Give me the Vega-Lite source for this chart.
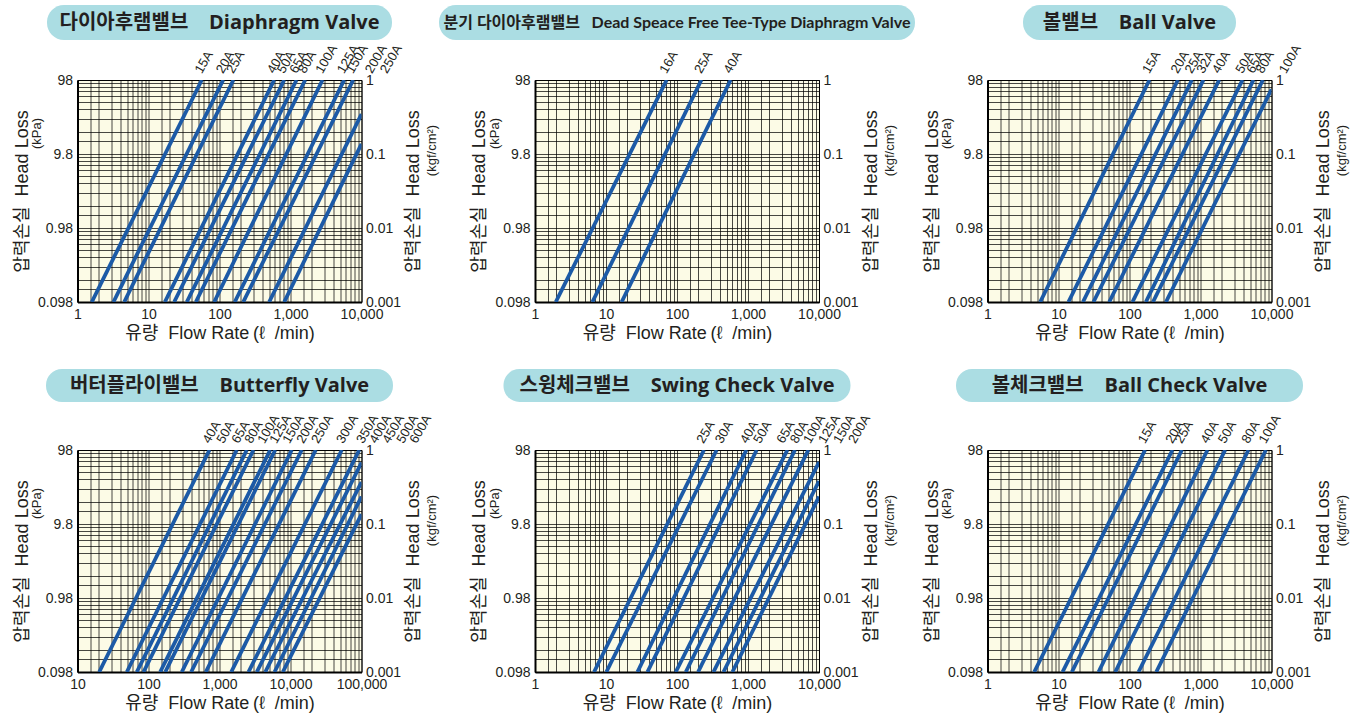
{
"$schema": "https://vega.github.io/schema/vega-lite/v6.json",
"background": "white",
"padding": {"left": 12, "top": 5, "right": 5, "bottom": 2},
"config": {
  "axis": {"ticks": false, "labelFont": "Liberation Sans", "labelFontSize": 14, "labelColor": "#231f20", "titleFont": "Liberation Sans, Noto Sans CJK KR", "titleFontSize": 18, "titleFontWeight": "normal", "titleColor": "#231f20", "domainColor": "#000", "gridColor": "#000", "gridWidth": 0.8, "gridOpacity": 0.9, "labelOverlap": false, "labelFlush": false}
},
"datasets": {
  "L1": [
    {"s":"15A","q":1.59,"h":0.098},{"s":"15A","q":56.3,"h":98},
    {"s":"20A","q":3.21,"h":0.098},{"s":"20A","q":112.8,"h":98},
    {"s":"25A","q":4.55,"h":0.098},{"s":"25A","q":157,"h":98},
    {"s":"40A","q":17.0,"h":0.098},{"s":"40A","q":589,"h":98},
    {"s":"50A","q":23.0,"h":0.098},{"s":"50A","q":815,"h":98},
    {"s":"65A","q":34.6,"h":0.098},{"s":"65A","q":1216,"h":98},
    {"s":"80A","q":46.4,"h":0.098},{"s":"80A","q":1611,"h":98},
    {"s":"100A","q":84.2,"h":0.098},{"s":"100A","q":2824,"h":98},
    {"s":"125A","q":164,"h":0.098},{"s":"125A","q":5705,"h":98},
    {"s":"150A","q":216,"h":0.098},{"s":"150A","q":7640,"h":98},
    {"s":"200A","q":501,"h":0.098},{"s":"200A","q":10000,"h":34.0},
    {"s":"250A","q":815,"h":0.098},{"s":"250A","q":10000,"h":13.4}
  ],
  "T1": [
    {"s":"15A","q":56.3,"h":98},{"s":"20A","q":112.8,"h":98},{"s":"25A","q":157,"h":98},
    {"s":"40A","q":589,"h":98},{"s":"50A","q":815,"h":98},{"s":"65A","q":1216,"h":98},
    {"s":"80A","q":1611,"h":98},{"s":"100A","q":2824,"h":98},{"s":"125A","q":5705,"h":98},
    {"s":"150A","q":7640,"h":98},{"s":"200A","q":14150,"h":98},{"s":"250A","q":23000,"h":98}
  ],
  "L2": [
    {"s":"16A","q":1.96,"h":0.098},{"s":"16A","q":71.6,"h":98},
    {"s":"25A","q":6.43,"h":0.098},{"s":"25A","q":220.7,"h":98},
    {"s":"40A","q":16.6,"h":0.098},{"s":"40A","q":570,"h":98}
  ],
  "T2": [
    {"s":"16A","q":71.6,"h":98},{"s":"25A","q":220.7,"h":98},{"s":"40A","q":570,"h":98}
  ],
  "L3": [
    {"s":"15A","q":5.52,"h":0.098},{"s":"15A","q":191,"h":98},
    {"s":"20A","q":13.8,"h":0.098},{"s":"20A","q":481,"h":98},
    {"s":"25A","q":22.1,"h":0.098},{"s":"25A","q":757,"h":98},
    {"s":"32A","q":31.1,"h":0.098},{"s":"32A","q":1102,"h":98},
    {"s":"40A","q":51.8,"h":0.098},{"s":"40A","q":1834,"h":98},
    {"s":"50A","q":110,"h":0.098},{"s":"50A","q":3906,"h":98},
    {"s":"65A","q":170,"h":0.098},{"s":"65A","q":5575,"h":98},
    {"s":"80A","q":214,"h":0.098},{"s":"80A","q":7566,"h":98},
    {"s":"100A","q":326,"h":0.098},{"s":"100A","q":10000,"h":73.3}
  ],
  "T3": [
    {"s":"15A","q":191,"h":98},{"s":"20A","q":481,"h":98},{"s":"25A","q":757,"h":98},
    {"s":"32A","q":1102,"h":98},{"s":"40A","q":1834,"h":98},{"s":"50A","q":3906,"h":98},
    {"s":"65A","q":5575,"h":98},{"s":"80A","q":7566,"h":98},{"s":"100A","q":16100,"h":98}
  ],
  "L4": [
    {"s":"40A","q":20.2,"h":0.098},{"s":"40A","q":723,"h":98},
    {"s":"50A","q":49.5,"h":0.098},{"s":"50A","q":1753,"h":98},
    {"s":"65A","q":68.4,"h":0.098},{"s":"65A","q":2425,"h":98},
    {"s":"80A","q":85.1,"h":0.098},{"s":"80A","q":3013,"h":98},
    {"s":"100A","q":146,"h":0.098},{"s":"100A","q":5176,"h":98},
    {"s":"125A","q":172,"h":0.098},{"s":"125A","q":6091,"h":98},
    {"s":"150A","q":294,"h":0.098},{"s":"150A","q":10430,"h":98},
    {"s":"200A","q":399,"h":0.098},{"s":"200A","q":14430,"h":98},
    {"s":"250A","q":641,"h":0.098},{"s":"250A","q":22700,"h":98},
    {"s":"300A","q":1462,"h":0.098},{"s":"300A","q":52800,"h":98},
    {"s":"350A","q":2560,"h":0.098},{"s":"350A","q":92900,"h":98},
    {"s":"400A","q":3352,"h":0.098},{"s":"400A","q":100000,"h":66.2},
    {"s":"450A","q":4405,"h":0.098},{"s":"450A","q":100000,"h":36.2},
    {"s":"500A","q":5957,"h":0.098},{"s":"500A","q":100000,"h":23.0},
    {"s":"600A","q":7800,"h":0.098},{"s":"600A","q":100000,"h":13.3}
  ],
  "T4": [
    {"s":"40A","q":723,"h":98},{"s":"50A","q":1138,"h":98},{"s":"65A","q":1854,"h":98},
    {"s":"80A","q":2825,"h":98},{"s":"100A","q":4305,"h":98},{"s":"125A","q":6353,"h":98},
    {"s":"150A","q":9683,"h":98},{"s":"200A","q":15240,"h":98},{"s":"250A","q":24770,"h":98},
    {"s":"300A","q":55700,"h":98},{"s":"350A","q":106600,"h":98},{"s":"400A","q":162500,"h":98},
    {"s":"450A","q":247700,"h":98},{"s":"500A","q":390800,"h":98},{"s":"600A","q":595700,"h":98}
  ],
  "L5": [
    {"s":"25A","q":6.78,"h":0.098},{"s":"25A","q":240,"h":98},
    {"s":"30A","q":10.1,"h":0.098},{"s":"30A","q":362,"h":98},
    {"s":"40A","q":27.7,"h":0.098},{"s":"40A","q":949,"h":98},
    {"s":"50A","q":38.3,"h":0.098},{"s":"50A","q":1326,"h":98},
    {"s":"65A","q":95.9,"h":0.098},{"s":"65A","q":3590,"h":98},
    {"s":"80A","q":133,"h":0.098},{"s":"80A","q":4590,"h":98},
    {"s":"100A","q":198,"h":0.098},{"s":"100A","q":7090,"h":98},
    {"s":"125A","q":326,"h":0.098},{"s":"125A","q":10000,"h":67.4},
    {"s":"150A","q":451,"h":0.098},{"s":"150A","q":10000,"h":37.3},
    {"s":"200A","q":603,"h":0.098},{"s":"200A","q":10000,"h":23.0}
  ],
  "T5": [
    {"s":"25A","q":237.7,"h":98},{"s":"30A","q":430,"h":98},{"s":"40A","q":968,"h":98},
    {"s":"50A","q":1495,"h":98},{"s":"65A","q":3184,"h":98},{"s":"80A","q":4899,"h":98},
    {"s":"100A","q":7568,"h":98},{"s":"125A","q":12300,"h":98},{"s":"150A","q":20000,"h":98},
    {"s":"200A","q":32560,"h":98}
  ],
  "L6": [
    {"s":"15A","q":4.55,"h":0.098},{"s":"15A","q":166,"h":98},
    {"s":"20A","q":11.4,"h":0.098},{"s":"20A","q":403,"h":98},
    {"s":"25A","q":15.4,"h":0.098},{"s":"25A","q":547,"h":98},
    {"s":"40A","q":36.6,"h":0.098},{"s":"40A","q":1256,"h":98},
    {"s":"50A","q":62.9,"h":0.098},{"s":"50A","q":2228,"h":98},
    {"s":"80A","q":134,"h":0.098},{"s":"80A","q":4742,"h":98},
    {"s":"100A","q":238,"h":0.098},{"s":"100A","q":8340,"h":98}
  ],
  "T6": [
    {"s":"15A","q":166,"h":98},{"s":"20A","q":403,"h":98},{"s":"25A","q":547,"h":98},
    {"s":"40A","q":1256,"h":98},{"s":"50A","q":2228,"h":98},{"s":"80A","q":4742,"h":98},
    {"s":"100A","q":8340,"h":98}
  ]
},
"hconcat": [
 {"vconcat": [
  {"width": 345, "height": 35, "view": {"fill": "#abdde3", "stroke": null, "cornerRadius": 17},
   "data": {"values": [{"t": "다이아후램밸브\u00a0\u00a0\u00a0\u00a0Diaphragm Valve"}]},
   "mark": {"type": "text", "font": "Open Sans, Noto Sans CJK KR", "fontSize": 20, "fontWeight": "bold", "color": "#231f20"},
   "encoding": {"text": {"field": "t", "type": "nominal"}}},
  {"width": 10, "height": 8, "data": {"values": []}, "mark": "point", "view": {"stroke": null}},
  {"width": 284, "height": 222, "view": {"fill": "#fcfbe6", "stroke": "#000", "strokeWidth": 1},
   "resolve": {"axis": {"y": "independent"}},
   "layer": [
    {"data": {"name": "L1"}, "mark": {"type": "line", "color": "#1c5aa6", "strokeWidth": 3.8, "clip": true},
     "encoding": {
      "x": {"field": "q", "type": "quantitative", "scale": {"type": "log", "domain": [1, 10000], "nice": false},
        "axis": {"orient": "bottom", "values": [1,1.5,2,3,4,5,6,7,8,9,10,15,20,30,40,50,60,70,80,90,100,150,200,300,400,500,600,700,800,900,1000,1500,2000,3000,4000,5000,6000,7000,8000,9000,10000],
          "labelExpr": "indexof([1,10,100,1000,10000,100000], datum.value) >= 0 ? format(datum.value, ',') : ''",
          "grid": true, "domainWidth": 2, "labelPadding": 5, "title": "유량\u00a0\u00a0Flow Rate\u2009(ℓ\u00a0\u00a0/min)", "titlePadding": 3}},
      "y": {"field": "h", "type": "quantitative", "scale": {"type": "log", "domain": [0.098, 98], "nice": false},
        "axis": {"orient": "left", "values": [0.098,0.147,0.196,0.294,0.392,0.49,0.588,0.686,0.784,0.882,0.98,1.47,1.96,2.94,3.92,4.9,5.88,6.86,7.84,8.82,9.8,14.7,19.6,29.4,39.2,49,58.8,68.6,78.4,88.2,98],
          "labelExpr": "indexof([0.098,0.98,9.8,98], datum.value) >= 0 ? '' + datum.value : ''",
          "grid": true, "domainWidth": 2, "labelPadding": 5, "title": "압력손실\u00a0\u00a0Head Loss", "titlePadding": 6}},
      "detail": {"field": "s", "type": "nominal"}}},
    {"data": {"name": "T1"}, "mark": {"type": "text", "angle": -60, "align": "left", "baseline": "bottom", "dx": 5, "font": "Liberation Sans", "fontSize": 13, "color": "#231f20"},
     "encoding": {
      "x": {"field": "q", "type": "quantitative", "scale": {"type": "log", "domain": [1, 10000], "nice": false}},
      "y": {"field": "h", "type": "quantitative", "scale": {"type": "log", "domain": [0.098, 98], "nice": false},
        "axis": {"orient": "right", "values": [0.098, 0.98, 9.8, 98], "labelExpr": "datum.value == 0.098 ? '0.001' : datum.value == 0.98 ? '0.01' : datum.value == 9.8 ? '0.1' : '1'",
          "grid": false, "domain": false, "labelPadding": 4, "title": "압력손실\u00a0\u00a0Head Loss", "titleAngle": -90, "titleBaseline": "top", "titlePadding": 4}},
      "text": {"field": "s", "type": "nominal"}}},
    {"data": {"name": "L1"}, "mark": {"type": "point", "opacity": 0},
     "encoding": {
      "x": {"field": "q", "type": "quantitative", "scale": {"type": "log", "domain": [1, 10000], "nice": false}},
      "y": {"field": "h", "type": "quantitative", "scale": {"type": "log", "domain": [0.098, 98], "nice": false},
        "axis": {"orient": "left", "labels": false, "domain": false, "grid": false, "title": "(kPa)", "titleFontSize": 13, "titlePadding": 34, "titleY": 53, "minExtent": 0, "maxExtent": 0}}}},
    {"data": {"name": "L1"}, "mark": {"type": "point", "opacity": 0},
     "encoding": {
      "x": {"field": "q", "type": "quantitative", "scale": {"type": "log", "domain": [1, 10000], "nice": false}},
      "y": {"field": "h", "type": "quantitative", "scale": {"type": "log", "domain": [0.098, 98], "nice": false},
        "axis": {"orient": "right", "labels": false, "domain": false, "grid": false, "title": "(kgf/cm²)", "titleFontSize": 13, "titleAngle": -90, "titleBaseline": "top", "titlePadding": 64, "titleY": 70, "minExtent": 0, "maxExtent": 0}}}}
   ]},
  {"width": 10, "height": 35, "data": {"values": []}, "mark": "point", "view": {"stroke": null}},
  {"width": 347, "height": 33, "view": {"fill": "#abdde3", "stroke": null, "cornerRadius": 16},
   "data": {"values": [{"t": "버터플라이밸브\u00a0\u00a0\u00a0\u00a0Butterfly Valve"}]},
   "mark": {"type": "text", "font": "Open Sans, Noto Sans CJK KR", "fontSize": 20, "fontWeight": "bold", "color": "#231f20"},
   "encoding": {"text": {"field": "t", "type": "nominal"}}},
  {"width": 10, "height": 16, "data": {"values": []}, "mark": "point", "view": {"stroke": null}},
  {"width": 284, "height": 222, "view": {"fill": "#fcfbe6", "stroke": "#000", "strokeWidth": 1},
   "resolve": {"axis": {"y": "independent"}},
   "layer": [
    {"data": {"name": "L4"}, "mark": {"type": "line", "color": "#1c5aa6", "strokeWidth": 3.8, "clip": true},
     "encoding": {
      "x": {"field": "q", "type": "quantitative", "scale": {"type": "log", "domain": [10, 100000], "nice": false},
        "axis": {"orient": "bottom", "values": [10,15,20,30,40,50,60,70,80,90,100,150,200,300,400,500,600,700,800,900,1000,1500,2000,3000,4000,5000,6000,7000,8000,9000,10000,15000,20000,30000,40000,50000,60000,70000,80000,90000,100000],
          "labelExpr": "indexof([1,10,100,1000,10000,100000], datum.value) >= 0 ? format(datum.value, ',') : ''",
          "grid": true, "domainWidth": 2, "labelPadding": 5, "title": "유량\u00a0\u00a0Flow Rate\u2009(ℓ\u00a0\u00a0/min)", "titlePadding": 3}},
      "y": {"field": "h", "type": "quantitative", "scale": {"type": "log", "domain": [0.098, 98], "nice": false},
        "axis": {"orient": "left", "values": [0.098,0.147,0.196,0.294,0.392,0.49,0.588,0.686,0.784,0.882,0.98,1.47,1.96,2.94,3.92,4.9,5.88,6.86,7.84,8.82,9.8,14.7,19.6,29.4,39.2,49,58.8,68.6,78.4,88.2,98],
          "labelExpr": "indexof([0.098,0.98,9.8,98], datum.value) >= 0 ? '' + datum.value : ''",
          "grid": true, "domainWidth": 2, "labelPadding": 5, "title": "압력손실\u00a0\u00a0Head Loss", "titlePadding": 6}},
      "detail": {"field": "s", "type": "nominal"}}},
    {"data": {"name": "T4"}, "mark": {"type": "text", "angle": -60, "align": "left", "baseline": "bottom", "dx": 5, "font": "Liberation Sans", "fontSize": 13, "color": "#231f20"},
     "encoding": {
      "x": {"field": "q", "type": "quantitative", "scale": {"type": "log", "domain": [10, 100000], "nice": false}},
      "y": {"field": "h", "type": "quantitative", "scale": {"type": "log", "domain": [0.098, 98], "nice": false},
        "axis": {"orient": "right", "values": [0.098, 0.98, 9.8, 98], "labelExpr": "datum.value == 0.098 ? '0.001' : datum.value == 0.98 ? '0.01' : datum.value == 9.8 ? '0.1' : '1'",
          "grid": false, "domain": false, "labelPadding": 4, "title": "압력손실\u00a0\u00a0Head Loss", "titleAngle": -90, "titleBaseline": "top", "titlePadding": 4}},
      "text": {"field": "s", "type": "nominal"}}},
    {"data": {"name": "L4"}, "mark": {"type": "point", "opacity": 0},
     "encoding": {
      "x": {"field": "q", "type": "quantitative", "scale": {"type": "log", "domain": [10, 100000], "nice": false}},
      "y": {"field": "h", "type": "quantitative", "scale": {"type": "log", "domain": [0.098, 98], "nice": false},
        "axis": {"orient": "left", "labels": false, "domain": false, "grid": false, "title": "(kPa)", "titleFontSize": 13, "titlePadding": 34, "titleY": 53, "minExtent": 0, "maxExtent": 0}}}},
    {"data": {"name": "L4"}, "mark": {"type": "point", "opacity": 0},
     "encoding": {
      "x": {"field": "q", "type": "quantitative", "scale": {"type": "log", "domain": [10, 100000], "nice": false}},
      "y": {"field": "h", "type": "quantitative", "scale": {"type": "log", "domain": [0.098, 98], "nice": false},
        "axis": {"orient": "right", "labels": false, "domain": false, "grid": false, "title": "(kgf/cm²)", "titleFontSize": 13, "titleAngle": -90, "titleBaseline": "top", "titlePadding": 64, "titleY": 70, "minExtent": 0, "maxExtent": 0}}}}
   ]}
 ], "spacing": 16, "bounds": "flush", "center": true},
 {"hconcat": [
  {"vconcat": [
   {"width": 476, "height": 35, "view": {"fill": "#abdde3", "stroke": null, "cornerRadius": 17},
    "data": {"values": [{"t": "분기 다이아후램밸브\u00a0\u00a0\u00a0Dead Speace Free Tee-Type Diaphragm Valve"}]},
    "mark": {"type": "text", "font": "Lato, Noto Sans CJK KR", "fontSize": 16, "fontWeight": "bold", "color": "#231f20"},
    "encoding": {"text": {"field": "t", "type": "nominal"}}},
   {"width": 10, "height": 8, "data": {"values": []}, "mark": "point", "view": {"stroke": null}},
   {"width": 284, "height": 222, "view": {"fill": "#fcfbe6", "stroke": "#000", "strokeWidth": 1},
    "resolve": {"axis": {"y": "independent"}},
    "layer": [
     {"data": {"name": "L2"}, "mark": {"type": "line", "color": "#1c5aa6", "strokeWidth": 3.8, "clip": true},
      "encoding": {
       "x": {"field": "q", "type": "quantitative", "scale": {"type": "log", "domain": [1, 10000], "nice": false},
         "axis": {"orient": "bottom", "values": [1,1.5,2,3,4,5,6,7,8,9,10,15,20,30,40,50,60,70,80,90,100,150,200,300,400,500,600,700,800,900,1000,1500,2000,3000,4000,5000,6000,7000,8000,9000,10000],
           "labelExpr": "indexof([1,10,100,1000,10000,100000], datum.value) >= 0 ? format(datum.value, ',') : ''",
           "grid": true, "domainWidth": 2, "labelPadding": 5, "title": "유량\u00a0\u00a0Flow Rate\u2009(ℓ\u00a0\u00a0/min)", "titlePadding": 3}},
       "y": {"field": "h", "type": "quantitative", "scale": {"type": "log", "domain": [0.098, 98], "nice": false},
         "axis": {"orient": "left", "values": [0.098,0.147,0.196,0.294,0.392,0.49,0.588,0.686,0.784,0.882,0.98,1.47,1.96,2.94,3.92,4.9,5.88,6.86,7.84,8.82,9.8,14.7,19.6,29.4,39.2,49,58.8,68.6,78.4,88.2,98],
           "labelExpr": "indexof([0.098,0.98,9.8,98], datum.value) >= 0 ? '' + datum.value : ''",
           "grid": true, "domainWidth": 2, "labelPadding": 5, "title": "압력손실\u00a0\u00a0Head Loss", "titlePadding": 6}},
       "detail": {"field": "s", "type": "nominal"}}},
     {"data": {"name": "T2"}, "mark": {"type": "text", "angle": -60, "align": "left", "baseline": "bottom", "dx": 5, "font": "Liberation Sans", "fontSize": 13, "color": "#231f20"},
      "encoding": {
       "x": {"field": "q", "type": "quantitative", "scale": {"type": "log", "domain": [1, 10000], "nice": false}},
       "y": {"field": "h", "type": "quantitative", "scale": {"type": "log", "domain": [0.098, 98], "nice": false},
         "axis": {"orient": "right", "values": [0.098, 0.98, 9.8, 98], "labelExpr": "datum.value == 0.098 ? '0.001' : datum.value == 0.98 ? '0.01' : datum.value == 9.8 ? '0.1' : '1'",
           "grid": false, "domain": false, "labelPadding": 4, "title": "압력손실\u00a0\u00a0Head Loss", "titleAngle": -90, "titleBaseline": "top", "titlePadding": 4}},
       "text": {"field": "s", "type": "nominal"}}},
     {"data": {"name": "L2"}, "mark": {"type": "point", "opacity": 0},
      "encoding": {
       "x": {"field": "q", "type": "quantitative", "scale": {"type": "log", "domain": [1, 10000], "nice": false}},
       "y": {"field": "h", "type": "quantitative", "scale": {"type": "log", "domain": [0.098, 98], "nice": false},
         "axis": {"orient": "left", "labels": false, "domain": false, "grid": false, "title": "(kPa)", "titleFontSize": 13, "titlePadding": 34, "titleY": 53, "minExtent": 0, "maxExtent": 0}}}},
     {"data": {"name": "L2"}, "mark": {"type": "point", "opacity": 0},
      "encoding": {
       "x": {"field": "q", "type": "quantitative", "scale": {"type": "log", "domain": [1, 10000], "nice": false}},
       "y": {"field": "h", "type": "quantitative", "scale": {"type": "log", "domain": [0.098, 98], "nice": false},
         "axis": {"orient": "right", "labels": false, "domain": false, "grid": false, "title": "(kgf/cm²)", "titleFontSize": 13, "titleAngle": -90, "titleBaseline": "top", "titlePadding": 64, "titleY": 70, "minExtent": 0, "maxExtent": 0}}}}
    ]},
   {"width": 10, "height": 35, "data": {"values": []}, "mark": "point", "view": {"stroke": null}},
   {"width": 347, "height": 33, "view": {"fill": "#abdde3", "stroke": null, "cornerRadius": 16},
    "data": {"values": [{"t": "스윙체크밸브\u00a0\u00a0\u00a0\u00a0Swing Check Valve"}]},
    "mark": {"type": "text", "font": "Open Sans, Noto Sans CJK KR", "fontSize": 20, "fontWeight": "bold", "color": "#231f20"},
    "encoding": {"text": {"field": "t", "type": "nominal"}}},
   {"width": 10, "height": 16, "data": {"values": []}, "mark": "point", "view": {"stroke": null}},
   {"width": 284, "height": 222, "view": {"fill": "#fcfbe6", "stroke": "#000", "strokeWidth": 1},
    "resolve": {"axis": {"y": "independent"}},
    "layer": [
     {"data": {"name": "L5"}, "mark": {"type": "line", "color": "#1c5aa6", "strokeWidth": 3.8, "clip": true},
      "encoding": {
       "x": {"field": "q", "type": "quantitative", "scale": {"type": "log", "domain": [1, 10000], "nice": false},
         "axis": {"orient": "bottom", "values": [1,1.5,2,3,4,5,6,7,8,9,10,15,20,30,40,50,60,70,80,90,100,150,200,300,400,500,600,700,800,900,1000,1500,2000,3000,4000,5000,6000,7000,8000,9000,10000],
           "labelExpr": "indexof([1,10,100,1000,10000,100000], datum.value) >= 0 ? format(datum.value, ',') : ''",
           "grid": true, "domainWidth": 2, "labelPadding": 5, "title": "유량\u00a0\u00a0Flow Rate\u2009(ℓ\u00a0\u00a0/min)", "titlePadding": 3}},
       "y": {"field": "h", "type": "quantitative", "scale": {"type": "log", "domain": [0.098, 98], "nice": false},
         "axis": {"orient": "left", "values": [0.098,0.147,0.196,0.294,0.392,0.49,0.588,0.686,0.784,0.882,0.98,1.47,1.96,2.94,3.92,4.9,5.88,6.86,7.84,8.82,9.8,14.7,19.6,29.4,39.2,49,58.8,68.6,78.4,88.2,98],
           "labelExpr": "indexof([0.098,0.98,9.8,98], datum.value) >= 0 ? '' + datum.value : ''",
           "grid": true, "domainWidth": 2, "labelPadding": 5, "title": "압력손실\u00a0\u00a0Head Loss", "titlePadding": 6}},
       "detail": {"field": "s", "type": "nominal"}}},
     {"data": {"name": "T5"}, "mark": {"type": "text", "angle": -60, "align": "left", "baseline": "bottom", "dx": 5, "font": "Liberation Sans", "fontSize": 13, "color": "#231f20"},
      "encoding": {
       "x": {"field": "q", "type": "quantitative", "scale": {"type": "log", "domain": [1, 10000], "nice": false}},
       "y": {"field": "h", "type": "quantitative", "scale": {"type": "log", "domain": [0.098, 98], "nice": false},
         "axis": {"orient": "right", "values": [0.098, 0.98, 9.8, 98], "labelExpr": "datum.value == 0.098 ? '0.001' : datum.value == 0.98 ? '0.01' : datum.value == 9.8 ? '0.1' : '1'",
           "grid": false, "domain": false, "labelPadding": 4, "title": "압력손실\u00a0\u00a0Head Loss", "titleAngle": -90, "titleBaseline": "top", "titlePadding": 4}},
       "text": {"field": "s", "type": "nominal"}}},
     {"data": {"name": "L5"}, "mark": {"type": "point", "opacity": 0},
      "encoding": {
       "x": {"field": "q", "type": "quantitative", "scale": {"type": "log", "domain": [1, 10000], "nice": false}},
       "y": {"field": "h", "type": "quantitative", "scale": {"type": "log", "domain": [0.098, 98], "nice": false},
         "axis": {"orient": "left", "labels": false, "domain": false, "grid": false, "title": "(kPa)", "titleFontSize": 13, "titlePadding": 34, "titleY": 53, "minExtent": 0, "maxExtent": 0}}}},
     {"data": {"name": "L5"}, "mark": {"type": "point", "opacity": 0},
      "encoding": {
       "x": {"field": "q", "type": "quantitative", "scale": {"type": "log", "domain": [1, 10000], "nice": false}},
       "y": {"field": "h", "type": "quantitative", "scale": {"type": "log", "domain": [0.098, 98], "nice": false},
         "axis": {"orient": "right", "labels": false, "domain": false, "grid": false, "title": "(kgf/cm²)", "titleFontSize": 13, "titleAngle": -90, "titleBaseline": "top", "titlePadding": 64, "titleY": 70, "minExtent": 0, "maxExtent": 0}}}}
    ]}
  ], "spacing": 16, "bounds": "flush", "center": true},
  {"vconcat": [
   {"width": 213, "height": 35, "view": {"fill": "#abdde3", "stroke": null, "cornerRadius": 17},
    "data": {"values": [{"t": "볼밸브\u00a0\u00a0\u00a0\u00a0Ball Valve"}]},
    "mark": {"type": "text", "font": "Open Sans, Noto Sans CJK KR", "fontSize": 20, "fontWeight": "bold", "color": "#231f20"},
    "encoding": {"text": {"field": "t", "type": "nominal"}}},
   {"width": 10, "height": 8, "data": {"values": []}, "mark": "point", "view": {"stroke": null}},
   {"width": 284, "height": 222, "view": {"fill": "#fcfbe6", "stroke": "#000", "strokeWidth": 1},
    "resolve": {"axis": {"y": "independent"}},
    "layer": [
     {"data": {"name": "L3"}, "mark": {"type": "line", "color": "#1c5aa6", "strokeWidth": 3.8, "clip": true},
      "encoding": {
       "x": {"field": "q", "type": "quantitative", "scale": {"type": "log", "domain": [1, 10000], "nice": false},
         "axis": {"orient": "bottom", "values": [1,1.5,2,3,4,5,6,7,8,9,10,15,20,30,40,50,60,70,80,90,100,150,200,300,400,500,600,700,800,900,1000,1500,2000,3000,4000,5000,6000,7000,8000,9000,10000],
           "labelExpr": "indexof([1,10,100,1000,10000,100000], datum.value) >= 0 ? format(datum.value, ',') : ''",
           "grid": true, "domainWidth": 2, "labelPadding": 5, "title": "유량\u00a0\u00a0Flow Rate\u2009(ℓ\u00a0\u00a0/min)", "titlePadding": 3}},
       "y": {"field": "h", "type": "quantitative", "scale": {"type": "log", "domain": [0.098, 98], "nice": false},
         "axis": {"orient": "left", "values": [0.098,0.147,0.196,0.294,0.392,0.49,0.588,0.686,0.784,0.882,0.98,1.47,1.96,2.94,3.92,4.9,5.88,6.86,7.84,8.82,9.8,14.7,19.6,29.4,39.2,49,58.8,68.6,78.4,88.2,98],
           "labelExpr": "indexof([0.098,0.98,9.8,98], datum.value) >= 0 ? '' + datum.value : ''",
           "grid": true, "domainWidth": 2, "labelPadding": 5, "title": "압력손실\u00a0\u00a0Head Loss", "titlePadding": 6}},
       "detail": {"field": "s", "type": "nominal"}}},
     {"data": {"name": "T3"}, "mark": {"type": "text", "angle": -60, "align": "left", "baseline": "bottom", "dx": 5, "font": "Liberation Sans", "fontSize": 13, "color": "#231f20"},
      "encoding": {
       "x": {"field": "q", "type": "quantitative", "scale": {"type": "log", "domain": [1, 10000], "nice": false}},
       "y": {"field": "h", "type": "quantitative", "scale": {"type": "log", "domain": [0.098, 98], "nice": false},
         "axis": {"orient": "right", "values": [0.098, 0.98, 9.8, 98], "labelExpr": "datum.value == 0.098 ? '0.001' : datum.value == 0.98 ? '0.01' : datum.value == 9.8 ? '0.1' : '1'",
           "grid": false, "domain": false, "labelPadding": 4, "title": "압력손실\u00a0\u00a0Head Loss", "titleAngle": -90, "titleBaseline": "top", "titlePadding": 4}},
       "text": {"field": "s", "type": "nominal"}}},
     {"data": {"name": "L3"}, "mark": {"type": "point", "opacity": 0},
      "encoding": {
       "x": {"field": "q", "type": "quantitative", "scale": {"type": "log", "domain": [1, 10000], "nice": false}},
       "y": {"field": "h", "type": "quantitative", "scale": {"type": "log", "domain": [0.098, 98], "nice": false},
         "axis": {"orient": "left", "labels": false, "domain": false, "grid": false, "title": "(kPa)", "titleFontSize": 13, "titlePadding": 34, "titleY": 53, "minExtent": 0, "maxExtent": 0}}}},
     {"data": {"name": "L3"}, "mark": {"type": "point", "opacity": 0},
      "encoding": {
       "x": {"field": "q", "type": "quantitative", "scale": {"type": "log", "domain": [1, 10000], "nice": false}},
       "y": {"field": "h", "type": "quantitative", "scale": {"type": "log", "domain": [0.098, 98], "nice": false},
         "axis": {"orient": "right", "labels": false, "domain": false, "grid": false, "title": "(kgf/cm²)", "titleFontSize": 13, "titleAngle": -90, "titleBaseline": "top", "titlePadding": 64, "titleY": 70, "minExtent": 0, "maxExtent": 0}}}}
    ]},
   {"width": 10, "height": 35, "data": {"values": []}, "mark": "point", "view": {"stroke": null}},
   {"width": 347, "height": 33, "view": {"fill": "#abdde3", "stroke": null, "cornerRadius": 16},
    "data": {"values": [{"t": "볼체크밸브\u00a0\u00a0\u00a0\u00a0Ball Check Valve"}]},
    "mark": {"type": "text", "font": "Open Sans, Noto Sans CJK KR", "fontSize": 20, "fontWeight": "bold", "color": "#231f20"},
    "encoding": {"text": {"field": "t", "type": "nominal"}}},
   {"width": 10, "height": 16, "data": {"values": []}, "mark": "point", "view": {"stroke": null}},
   {"width": 284, "height": 222, "view": {"fill": "#fcfbe6", "stroke": "#000", "strokeWidth": 1},
    "resolve": {"axis": {"y": "independent"}},
    "layer": [
     {"data": {"name": "L6"}, "mark": {"type": "line", "color": "#1c5aa6", "strokeWidth": 3.8, "clip": true},
      "encoding": {
       "x": {"field": "q", "type": "quantitative", "scale": {"type": "log", "domain": [1, 10000], "nice": false},
         "axis": {"orient": "bottom", "values": [1,1.5,2,3,4,5,6,7,8,9,10,15,20,30,40,50,60,70,80,90,100,150,200,300,400,500,600,700,800,900,1000,1500,2000,3000,4000,5000,6000,7000,8000,9000,10000],
           "labelExpr": "indexof([1,10,100,1000,10000,100000], datum.value) >= 0 ? format(datum.value, ',') : ''",
           "grid": true, "domainWidth": 2, "labelPadding": 5, "title": "유량\u00a0\u00a0Flow Rate\u2009(ℓ\u00a0\u00a0/min)", "titlePadding": 3}},
       "y": {"field": "h", "type": "quantitative", "scale": {"type": "log", "domain": [0.098, 98], "nice": false},
         "axis": {"orient": "left", "values": [0.098,0.147,0.196,0.294,0.392,0.49,0.588,0.686,0.784,0.882,0.98,1.47,1.96,2.94,3.92,4.9,5.88,6.86,7.84,8.82,9.8,14.7,19.6,29.4,39.2,49,58.8,68.6,78.4,88.2,98],
           "labelExpr": "indexof([0.098,0.98,9.8,98], datum.value) >= 0 ? '' + datum.value : ''",
           "grid": true, "domainWidth": 2, "labelPadding": 5, "title": "압력손실\u00a0\u00a0Head Loss", "titlePadding": 6}},
       "detail": {"field": "s", "type": "nominal"}}},
     {"data": {"name": "T6"}, "mark": {"type": "text", "angle": -60, "align": "left", "baseline": "bottom", "dx": 5, "font": "Liberation Sans", "fontSize": 13, "color": "#231f20"},
      "encoding": {
       "x": {"field": "q", "type": "quantitative", "scale": {"type": "log", "domain": [1, 10000], "nice": false}},
       "y": {"field": "h", "type": "quantitative", "scale": {"type": "log", "domain": [0.098, 98], "nice": false},
         "axis": {"orient": "right", "values": [0.098, 0.98, 9.8, 98], "labelExpr": "datum.value == 0.098 ? '0.001' : datum.value == 0.98 ? '0.01' : datum.value == 9.8 ? '0.1' : '1'",
           "grid": false, "domain": false, "labelPadding": 4, "title": "압력손실\u00a0\u00a0Head Loss", "titleAngle": -90, "titleBaseline": "top", "titlePadding": 4}},
       "text": {"field": "s", "type": "nominal"}}},
     {"data": {"name": "L6"}, "mark": {"type": "point", "opacity": 0},
      "encoding": {
       "x": {"field": "q", "type": "quantitative", "scale": {"type": "log", "domain": [1, 10000], "nice": false}},
       "y": {"field": "h", "type": "quantitative", "scale": {"type": "log", "domain": [0.098, 98], "nice": false},
         "axis": {"orient": "left", "labels": false, "domain": false, "grid": false, "title": "(kPa)", "titleFontSize": 13, "titlePadding": 34, "titleY": 53, "minExtent": 0, "maxExtent": 0}}}},
     {"data": {"name": "L6"}, "mark": {"type": "point", "opacity": 0},
      "encoding": {
       "x": {"field": "q", "type": "quantitative", "scale": {"type": "log", "domain": [1, 10000], "nice": false}},
       "y": {"field": "h", "type": "quantitative", "scale": {"type": "log", "domain": [0.098, 98], "nice": false},
         "axis": {"orient": "right", "labels": false, "domain": false, "grid": false, "title": "(kgf/cm²)", "titleFontSize": 13, "titleAngle": -90, "titleBaseline": "top", "titlePadding": 64, "titleY": 70, "minExtent": 0, "maxExtent": 0}}}}
    ]}
  ], "spacing": 16, "bounds": "flush", "center": true}
 ], "spacing": 7, "bounds": "full"}
],
"spacing": 0,
"bounds": "full"
}
